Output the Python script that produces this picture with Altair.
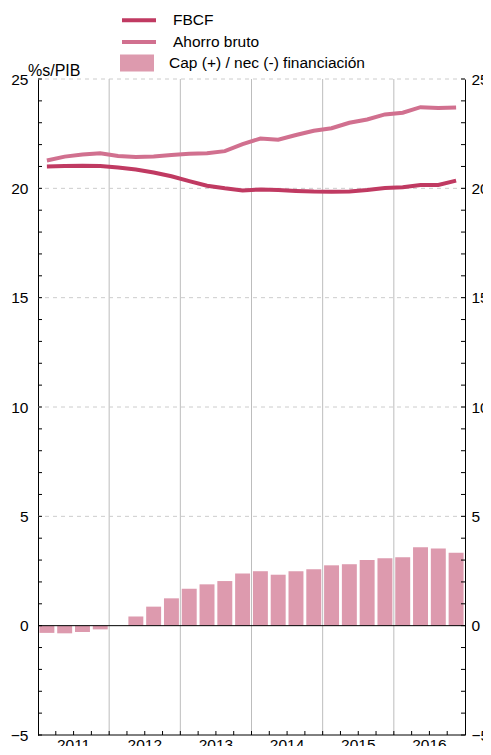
import altair as alt
import pandas as pd

years = [2011, 2012, 2013, 2014, 2015, 2016]
fbcf = [21.0, 21.02, 21.03, 21.02, 20.95, 20.86, 20.72, 20.55, 20.33, 20.12, 20.0, 19.9,
        19.95, 19.92, 19.88, 19.85, 19.84, 19.86, 19.92, 20.01, 20.05, 20.15, 20.15, 20.35]
ahorro = [21.27, 21.45, 21.55, 21.6, 21.48, 21.43, 21.46, 21.52, 21.58, 21.6, 21.7, 22.02,
          22.28, 22.22, 22.44, 22.63, 22.75, 23.0, 23.15, 23.38, 23.46, 23.71, 23.67, 23.7]
cap = [-0.33, -0.35, -0.29, -0.17, 0.0, 0.42, 0.87, 1.25, 1.69, 1.89, 2.04, 2.39,
       2.49, 2.33, 2.49, 2.58, 2.76, 2.81, 3.0, 3.08, 3.13, 3.59, 3.53, 3.34]
series_names = ["FBCF", "Ahorro bruto"]
bar_name = "Cap (+) / nec (-) financiación"
y_label_vals = [-5, 0, 5, 10, 15, 20, 25]
y_grid_vals = [5, 10, 15, 20, 25]
y_minor = list(range(-5, 26))

n = len(cap)
nq = 4 * len(years)
q = list(range(n))
FONT = "Liberation Sans"
W, H = 427, 656
PT = 71
TOP = PT + 8  # page y of plot top

bars_df = pd.DataFrame({"x0": [i + 0.08 for i in q], "x1": [i + 0.92 for i in q],
                        "v": cap, "lab": [bar_name] * n})
lines_df = pd.DataFrame({"xc": [i + 0.5 for i in q] * 2, "v": fbcf + ahorro,
                         "serie": [series_names[0]] * n + [series_names[1]] * n})
year_df = pd.DataFrame({"xc": [4 * k + 2 for k in range(len(years))],
                        "year": [str(y) for y in years]})
year_bounds = pd.DataFrame({"b": [4 * k for k in range(1, len(years))]})
q_bounds = pd.DataFrame({"b": list(range(1, nq))})
grid_df = pd.DataFrame({"g": y_grid_vals})
minor_df = pd.DataFrame({"t": y_minor})
base_df = pd.DataFrame({"z": [0, -5]})

xs = alt.Scale(domain=[0, nq], nice=False, zero=False)
ys = alt.Scale(domain=[-5, 25], nice=False, zero=False)

vgrid = alt.Chart(year_bounds).mark_rule(color="#bdbdbd", strokeWidth=1).encode(
    x=alt.X("b:Q", scale=xs, axis=None))
hgrid = alt.Chart(grid_df).mark_rule(color="#cccccc", strokeWidth=1, strokeDash=[4, 4]).encode(
    y=alt.Y("g:Q", scale=ys, axis=None))

bars = alt.Chart(bars_df).mark_rect(color="#dd9aae").encode(
    x=alt.X("x0:Q", scale=xs, axis=None),
    x2="x1:Q",
    y=alt.Y("v:Q", scale=ys, axis=alt.Axis(
        values=y_label_vals, ticks=False, grid=False, domain=True, domainColor="black",
        labelPadding=10, labelFontSize=15.5, labelFont=FONT, labelColor="black",
        title="%s/PIB", titleAngle=0, titleX=-10.5, titleY=-4, titleAlign="left",
        titleBaseline="alphabetic", titleFontSize=16, titleFontWeight="normal",
        titleFont=FONT, titleColor="black")),
    fill=alt.Fill("lab:N", scale=alt.Scale(domain=[bar_name], range=["#dd9aae"]),
                  legend=alt.Legend(orient="none", legendX=82, legendY=63 - 10 - TOP, title=None,
                                    symbolType="M-1,-0.5H1V0.5H-1Z", symbolSize=1156,
                                    symbolStrokeWidth=0, symbolOpacity=1,
                                    labelFontSize=15.5, labelFont=FONT, labelColor="black",
                                    labelOffset=15, clipHeight=20, padding=0, labelLimit=400)),
)

lines = alt.Chart(lines_df).mark_line(strokeWidth=4).encode(
    x=alt.X("xc:Q", scale=xs, axis=None),
    y=alt.Y("v:Q", scale=ys, axis=None),
    stroke=alt.Stroke("serie:N", scale=alt.Scale(domain=series_names, range=["#c03a62", "#d1708f"]),
                      legend=alt.Legend(orient="none", legendX=82, legendY=20.3 - 10 - TOP, title=None,
                                        symbolType="stroke", symbolSize=1156, symbolStrokeWidth=4,
                                        labelFontSize=15.5, labelFont=FONT, labelColor="black",
                                        labelOffset=15, clipHeight=20, rowPadding=1.7,
                                        padding=0, labelLimit=400)),
    detail="serie:N",
)

baselines = alt.Chart(base_df).mark_rule(color="black", strokeWidth=1).encode(
    y=alt.Y("z:Q", scale=ys, axis=None))

year_text = alt.Chart(year_df).mark_text(
    baseline="top", align="center", fontSize=15.5, font=FONT, color="black"
).encode(x=alt.X("xc:Q", scale=xs, axis=None), y=alt.value(H + 3), text="year:N")

lticks = alt.Chart(minor_df).mark_rule(color="black").encode(
    y=alt.Y("t:Q", scale=ys, axis=None), x=alt.value(0), x2=alt.value(4))
rticks = alt.Chart(minor_df).mark_rule(color="black").encode(
    y=alt.Y("t:Q", scale=ys, axis=alt.Axis(
        orient="right", values=y_label_vals, ticks=False, grid=False, domain=True,
        domainColor="black", labelPadding=6, labelFontSize=15.5, labelFont=FONT,
        labelColor="black", title=None)),
    x=alt.value(W - 4), x2=alt.value(W))
bticks = alt.Chart(q_bounds).mark_rule(color="black").encode(
    x=alt.X("b:Q", scale=xs, axis=None), y=alt.value(H - 4), y2=alt.value(H))

chart = alt.layer(vgrid, hgrid, bars, lines, baselines, lticks, bticks, year_text, rticks).resolve_axis(
    y="independent"
).properties(
    width=W, height=H,
    autosize=alt.AutoSizeParams(type="none"),
    padding={"left": 30, "top": PT, "right": 18, "bottom": 738 - PT - H},
).configure(font=FONT).configure_view(stroke=None)

chart.save("out.html", embed_options={"renderer": "svg", "actions": False})
